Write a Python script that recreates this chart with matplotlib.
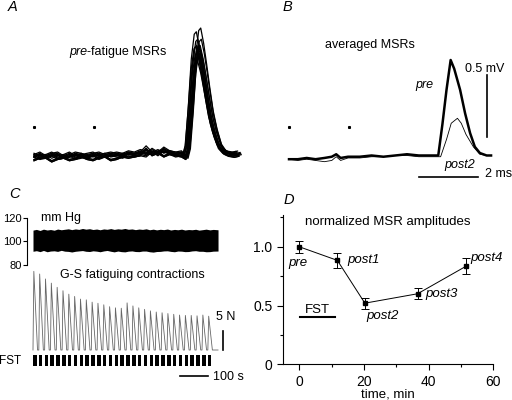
import matplotlib
matplotlib.use("Agg")
import matplotlib.pyplot as plt
import numpy as np

plt.rcParams['font.family'] = ['Liberation Sans', 'DejaVu Sans']
plt.rcParams['font.size'] = 9

W, H = 512, 400

# ---- panel A: superimposed pre-fatigue MSRs (ms, mV) ----
base_t = [0.0, 0.2, 0.4, 0.6, 0.8, 1.0, 1.2, 1.4, 1.6, 1.8, 2.0, 2.2, 2.4,
          2.6, 2.8, 3.0, 3.2, 3.4, 3.6, 3.8, 4.0, 4.2, 4.4, 4.6, 4.8, 5.0]
noise_a = [
    [0.00, 0.02, -0.01, 0.01, 0.02, -0.01, 0.00, 0.02, 0.01, -0.01, 0.01, 0.02, 0.00,
     0.01, 0.02, 0.01, 0.03, 0.02, 0.04, 0.03, 0.02, 0.03, 0.04, 0.03, 0.02, 0.03],
    [-0.01, 0.01, 0.01, -0.02, 0.00, 0.01, -0.01, 0.00, 0.02, 0.00, -0.01, 0.01, 0.02,
     -0.01, 0.00, 0.02, 0.01, 0.02, 0.03, 0.08, 0.03, 0.05, 0.02, 0.04, 0.03, 0.02],
    [0.01, -0.01, 0.00, 0.02, -0.01, 0.00, 0.02, -0.01, 0.00, 0.01, 0.02, -0.01, 0.01,
     0.02, 0.01, 0.00, 0.02, 0.01, 0.02, 0.01, 0.05, 0.02, 0.06, 0.03, 0.01, 0.02],
]
msr_t = [5.1, 5.18, 5.28, 5.38, 5.48, 5.55, 5.65, 5.75, 5.85, 5.97, 6.1, 6.25, 6.4, 6.55, 6.75, 6.9]
msr_rel = [0.0, 0.08, 0.4, 0.78, 0.98, 1.0, 0.88, 0.72, 0.55, 0.36, 0.22, 0.1, 0.05, 0.03, 0.02, 0.03]
msr_amp = [1.04, 1.0, 0.96, 0.93, 0.92, 0.9, 0.89, 0.88, 0.87, 0.86, 0.84, 0.83, 0.81, 0.78]
msr_shift = [0.1, -0.05, 0.12, 0.0, 0.05, -0.03, 0.08, 0.02, -0.06, 0.1, 0.04, -0.02, 0.06, 0.0]
msr_offset = [0.0, 0.01, -0.01, 0.02, -0.02, 0.0, 0.01, -0.01, 0.02, 0.0, -0.02, 0.01, 0.0, -0.01]

# ---- panel B: averaged MSRs ----
b_base_t = [0, 0.3, 0.6, 0.9, 1.2, 1.45, 1.6, 1.75, 2.0, 2.4, 2.8, 3.2, 3.6, 4.0, 4.4, 4.8, 5.0]
pre_base = [-0.01, -0.01, 0.0, -0.01, 0.0, 0.01, 0.03, 0.0, 0.01, 0.01, 0.02, 0.01, 0.02, 0.03, 0.02, 0.02, 0.02]
post2_base = [-0.01, -0.02, -0.01, -0.02, -0.03, -0.02, 0.01, -0.02, 0.0, 0.0, 0.01, 0.01, 0.02, 0.02, 0.01, 0.01, 0.01]
pre_t = [5.06, 5.2, 5.34, 5.48, 5.6, 5.8, 5.97, 6.14, 6.3, 6.47, 6.7, 6.85]
pre_v = [0.02, 0.27, 0.55, 0.79, 0.72, 0.55, 0.36, 0.20, 0.09, 0.04, 0.02, 0.02]
post2_t = [5.14, 5.34, 5.5, 5.71, 5.84, 6.0, 6.25, 6.47, 6.7, 6.85]
post2_v = [0.01, 0.15, 0.28, 0.32, 0.28, 0.19, 0.09, 0.03, 0.02, 0.02]
stim_t = [0.0, 2.03]

# ---- panel C: blood pressure and G-S force ----
bp_t = [0, 12, 25, 37, 50, 62, 75, 87, 100, 112, 125, 137, 150, 162, 175, 187, 200, 212,
        225, 237, 250, 262, 275, 287, 300, 312, 325, 337, 350, 362, 375, 387, 400, 412,
        425, 437, 450, 462, 475, 487, 500, 512, 525, 537, 550, 562, 575, 587, 600, 612,
        625, 637, 654]
bp_hi = [109.5, 110.1, 109.2, 110.3, 109.6, 110.0, 109.4, 110.4, 109.8, 110.2, 110.6, 109.9,
         110.5, 110.1, 110.9, 110.3, 110.7, 110.0, 110.4, 109.8, 110.5, 110.2, 110.8, 110.1,
         110.6, 110.3, 110.9, 110.2, 110.5, 109.9, 110.4, 110.1, 110.6, 109.8, 110.3, 109.7,
         110.2, 109.9, 110.4, 109.6, 110.1, 109.8, 110.3, 109.6, 110.0, 109.8, 110.2, 109.5,
         109.9, 110.3, 109.7, 110.1, 109.8]
bp_lo = [91.6, 92.1, 91.3, 92.3, 91.2, 91.8, 92.0, 91.5, 92.4, 91.7, 91.5, 91.0, 91.6, 91.9,
         92.2, 91.6, 91.4, 92.0, 91.7, 91.2, 91.9, 92.3, 91.6, 91.1, 91.8, 91.3, 91.1, 91.7,
         91.9, 91.4, 91.3, 91.8, 91.8, 91.2, 90.9, 91.4, 91.5, 91.9, 92.0, 91.5, 91.2, 91.8,
         91.7, 91.3, 91.4, 91.9, 92.1, 91.6, 91.6, 91.2, 91.3, 91.7, 91.8]
force_peak = [20.7, 20.0, 18.7, 17.6, 16.5, 15.6, 14.7, 14.1, 13.4, 13.2, 12.6, 12.3, 11.9, 11.4, 11.1,
              11.0, 12.4, 11.6, 11.1, 10.7, 10.3, 10.0, 9.8, 9.6, 9.4, 9.2, 9.1, 9.1, 9.0, 9.2, 8.9]
train_period = 20.6   # s between stimulus trains
train_len = 12.5      # s of stimulation (FST bars)
trace_end = 654

# ---- panel D: normalized MSR amplitudes ----
d_time = [0, 11.8, 20.3, 36.6, 51.5]
d_amp = [1.0, 0.884, 0.52, 0.60, 0.833]
d_err = [0.05, 0.065, 0.047, 0.048, 0.068]
d_names = ['pre', 'post1', 'post2', 'post3', 'post4']


def px_axes(x0, y0, x1, y1):
    ax = fig.add_axes([x0 / W, 1 - y1 / H, (x1 - x0) / W, (y1 - y0) / H])
    return ax


fig = plt.figure(figsize=(W / 100, H / 100), dpi=100)

# panel A
axA = px_axes(20, 15, 250, 175)
axA.axis('off')
axA.set_xlim(-0.475, 7.32)
axA.set_ylim(-0.145, 1.145)
for i in range(len(msr_amp)):
    nz = noise_a[i % 3]
    tt = base_t + [t + msr_shift[i] for t in msr_t]
    vv = [v + msr_offset[i] for v in nz] + [msr_amp[i] * r + msr_offset[i] for r in msr_rel]
    axA.plot(tt, vv, color='black', lw=0.9)
axA.plot(stim_t, [0.24, 0.24], 's', color='black', ms=1.2)
axA.text(1.8, 0.85, 'pre', style='italic', ha='right', va='center', fontsize=9)
axA.text(1.8, 0.85, '-fatigue MSRs', ha='left', va='center', fontsize=9)

# panel B
axB = px_axes(275, 15, 512, 185)
axB.axis('off')
axB.set_xlim(-0.475, 7.56)
axB.set_ylim(-0.218, 1.153)
axB.plot(b_base_t + post2_t, post2_base + post2_v, color='black', lw=0.6)
axB.plot(b_base_t + pre_t, pre_base + pre_v, color='black', lw=1.8)
axB.plot(stim_t, [0.25, 0.25], 's', color='black', ms=1.2)
axB.plot([6.71, 6.71], [0.169, 0.669], color='black', lw=1.2, clip_on=False)
axB.plot([4.41, 6.41], [-0.153, -0.153], color='black', lw=1.2, clip_on=False)
axB.text(6.64, 0.72, '0.5 mV', ha='center', va='center', fontsize=9)
axB.text(6.64, -0.13, '2 ms', ha='left', va='center', fontsize=9)
axB.text(4.58, 0.59, 'pre', style='italic', ha='center', va='center', fontsize=9)
axB.text(5.8, -0.056, 'post2', style='italic', ha='center', va='center', fontsize=9)
axB.text(2.75, 0.91, 'averaged MSRs', ha='center', va='center', fontsize=9)

# panel C - blood pressure
axP = px_axes(27, 217.7, 250, 265)
axP.set_xlim(-21.2, 767)
axP.set_ylim(80, 120)
axP.fill_between(bp_t, bp_lo, bp_hi, color='black', lw=0)
for s in ['top', 'right', 'bottom']:
    axP.spines[s].set_visible(False)
axP.spines['left'].set_linewidth(0.8)
axP.set_xticks([])
axP.set_yticks([80, 100, 120])
axP.tick_params(axis='y', direction='out', length=3, width=0.8, labelsize=8, pad=1)
axP.text(30, 120, 'mm Hg', ha='left', va='center', fontsize=9)

# panel C - force
axF = px_axes(0, 262, 250, 385)
axF.axis('off')
axF.set_xlim(-116.6, 767)
axF.set_ylim(-9.21, 23.16)
ft, fv = [0.0], [0.0]
for i, pk in enumerate(force_peak):
    t0 = i * train_period
    ft += [t0, t0 + 3.0, t0 + 16.0]
    fv += [0.0, pk, 0.0]
    axF.fill_between([t0, t0 + train_len], -4.2, -1.3, color='black', lw=0)
ft.append(trace_end)
fv.append(0.0)
axF.plot(ft, fv, color='#666666', lw=0.6)
axF.plot([671, 671], [0, 5], color='black', lw=1.2)
axF.plot([519, 619], [-6.84, -6.84], color='black', lw=1.2)
axF.text(682, 8.7, '5 N', ha='center', va='center', fontsize=9)
axF.text(636, -7.0, '100 s', ha='left', va='center', fontsize=9)
axF.text(-81, -2.8, 'FST', ha='center', va='center', fontsize=8.5)
axF.text(350, 19.7, 'G-S fatiguing contractions', ha='center', va='center', fontsize=9)

# panel D
axD = px_axes(282.7, 215, 493.3, 364.3)
axD.errorbar(d_time, d_amp, yerr=d_err, color='black', lw=0.7, elinewidth=0.7,
             capsize=3, capthick=0.7, marker='s', ms=3.5)
axD.set_xlim(-5.1, 60)
axD.set_ylim(0, 1.27)
for s in ['top', 'right']:
    axD.spines[s].set_visible(False)
for s in ['left', 'bottom']:
    axD.spines[s].set_linewidth(0.8)
axD.set_xticks([0, 20, 40, 60])
axD.set_xticks([10, 30, 50], minor=True)
axD.set_yticks([0, 0.5, 1.0])
axD.set_yticklabels(['0', '0.5', '1.0'])
axD.set_yticks([0.25, 0.75, 1.25], minor=True)
axD.tick_params(which='major', direction='out', length=4, width=0.8, labelsize=10)
axD.tick_params(which='minor', direction='out', length=2.5, width=0.8)
axD.set_xlabel('time, min', fontsize=9.5, labelpad=0)
axD.plot([0.2, 11.2], [0.40, 0.40], color='black', lw=1.5)
axD.text(5.7, 0.46, 'FST', ha='center', va='center', fontsize=9.5)
axD.text(27.5, 1.21, 'normalized MSR amplitudes', ha='center', va='center', fontsize=9.5)
name_pos = [(-0.3, 0.86, 'center'), (15.0, 0.885, 'left'), (20.8, 0.41, 'left'),
            (39.0, 0.60, 'left'), (53.0, 0.90, 'left')]
for name, (x, y, ha) in zip(d_names, name_pos):
    axD.text(x, y, name, style='italic', ha=ha, va='center', fontsize=9.5)

# panel letters
for letter, x, y in [('A', 13, 7), ('B', 287, 7), ('C', 14, 194), ('D', 289, 200)]:
    fig.text(x / W, 1 - y / H, letter, style='italic', ha='center', va='center', fontsize=10.5)

fig.savefig('out.png', dpi=100)
